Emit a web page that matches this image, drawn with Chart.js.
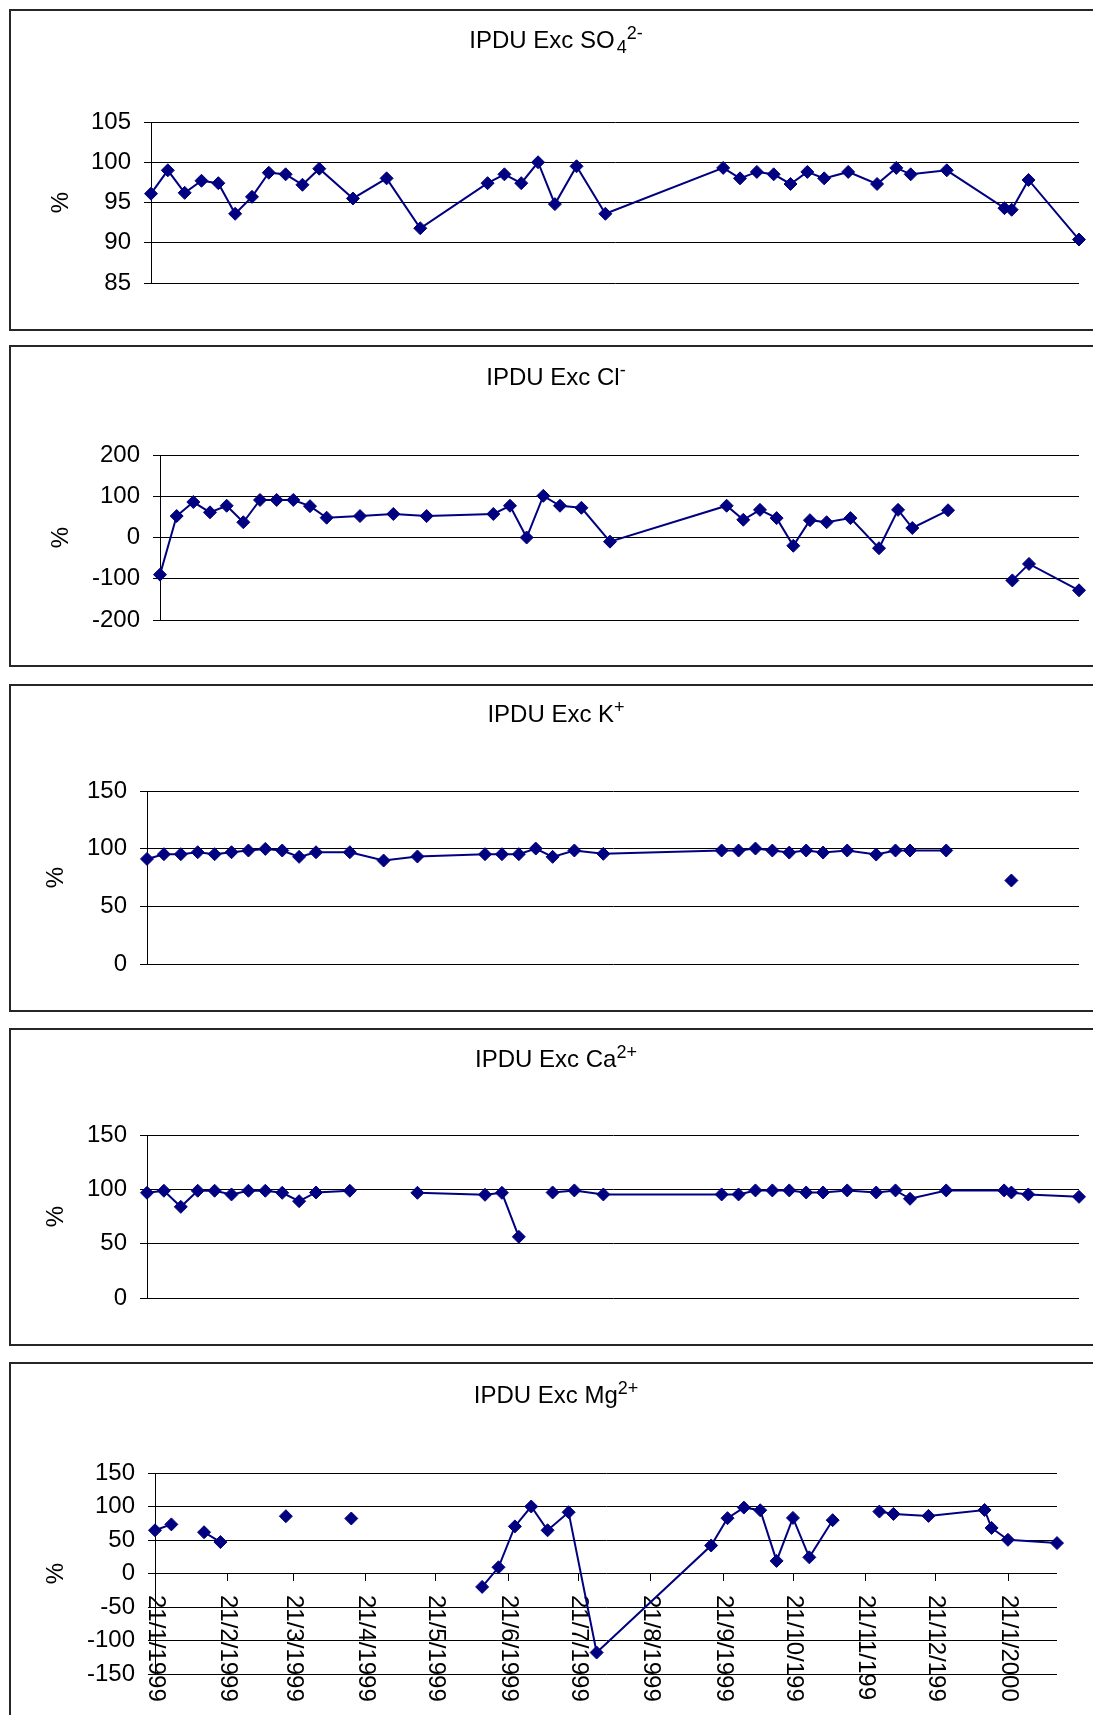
<!DOCTYPE html>
<html>
<head>
<meta charset="utf-8">
<title>IPDU Exc</title>
<script src="https://cdn.jsdelivr.net/npm/chart.js@4.4.1/dist/chart.umd.min.js"></script>
<style>
  html, body { margin: 0; padding: 0; background: #fff; }
  body { width: 1093px; height: 1715px; overflow: hidden; position: relative; }
  .panel { position: absolute; left: 9px; width: 1100px; border: 2px solid #262626; box-sizing: border-box; }
  canvas { position: absolute; left: 0; }
</style>
</head>
<body>
<script>
// Fechas de muestreo (d/m/aaaa)
const sampleDates = [
  '21/1/1999', '28/1/1999', '4/2/1999', '11/2/1999', '18/2/1999', '25/2/1999',
  '4/3/1999', '11/3/1999', '18/3/1999', '25/3/1999', '1/4/1999', '15/4/1999',
  '29/4/1999', '13/5/1999', '10/6/1999', '17/6/1999', '24/6/1999', '1/7/1999',
  '8/7/1999', '17/7/1999', '29/7/1999', '16/9/1999', '23/9/1999', '30/9/1999',
  '7/10/1999', '14/10/1999', '21/10/1999', '28/10/1999', '7/11/1999', '19/11/1999',
  '27/11/1999', '3/12/1999', '18/12/1999', '11/1/2000', '14/1/2000', '21/1/2000',
  '11/2/2000'
];

// Porcentajes por ion (null = sin dato)
const so4 = [96.1, 99.0, 96.2, 97.7, 97.4, 93.6, 95.7, 98.7, 98.5, 97.2, 99.2, 95.5,
  98.0, 91.8, 97.4, 98.5, 97.4, 100.0, 94.8, 99.5, 93.6, 99.3, 98.0, 98.8,
  98.5, 97.3, 98.8, 98.0, 98.8, 97.3, 99.3, 98.5, 99.0, 94.3, 94.1, 97.8, 90.4];
const cl = [-90, 52, 86, 61, 77, 37, 91, 91, 91, 76, 48, 52,
  57, 52, 57, 77, 0, 101, 77, 72, -10, 77, 43, 67,
  47, -20, 42, 37, 47, -26, 67, 23, 66, null, -104, -64, -128];
const k = [91.1, 95.2, 95.2, 96.9, 95.2, 96.9, 98.4, 99.8, 98.4, 92.9, 96.9, 96.9,
  89.7, 93.2, 95.2, 95.2, 95.2, 100.1, 92.9, 98.4, 95.5, 98.4, 98.4, 100.1,
  98.4, 96.6, 98.4, 96.6, 98.4, 94.9, 98.4, 98.4, 98.4, null, 72.4, null, null];
const ca = [96.8, 98.7, 83.9, 98.7, 98.7, 95.3, 98.7, 98.7, 96.8, 89.1, 97.1, 98.7,
  null, 96.8, 95.0, 96.8, 56.3, null, 97.1, 99.0, 95.3, 95.3, 95.3, 99.0,
  99.0, 99.0, 97.1, 97.1, 99.0, 97.1, 99.0, 91.3, 99.0, 99.0, 97.1, 95.3, 93.1];
const mg = [64.5, 73.3, null, 61.6, 46.9, null, null, null, 85.5, null, null, 82.1,
  null, null, -20, 9.3, 70.3, 100, 64.5, 91.4, -118, 41.8, 82.6, 98.4,
  94.4, 18.8, 83, 24.1, 79.6, null, 92.4, 88.9, 86, 94.8, 68, 50.3, 45.4];

// Eje de fechas (solo en el último gráfico)
const tickDates = ['21/1/1999', '21/2/1999', '21/3/1999', '21/4/1999', '21/5/1999', '21/6/1999',
  '21/7/1999', '21/8/1999', '21/9/1999', '21/10/1999', '21/11/1999', '21/12/1999', '21/1/2000'];
const tickLabels = ['21/1/1999', '21/2/1999', '21/3/1999', '21/4/1999', '21/5/1999', '21/6/1999',
  '21/7/1999', '21/8/1999', '21/9/1999', '21/10/199', '21/11/199', '21/12/199', '21/1/2000'];

// Rangos del eje Y
const yRanges = {
  so4: [85, 105, 5],
  cl: [-200, 200, 100],
  k: [0, 150, 50],
  ca: [0, 150, 50],
  mg: [-150, 150, 50]
};

const NAVY = '#000080';
const FONT = '"Liberation Sans", Arial, sans-serif';

function dayNumber(s) {
  const [d, m, y] = s.split('/').map(Number);
  return Date.UTC(y, m - 1, d) / 86400000;
}
const day0 = dayNumber(sampleDates[0]);
const xDays = sampleDates.map(s => dayNumber(s) - day0);

/* ================================
   TÍTULO CON SUB/SUPERÍNDICES
================================= */
const titlePlugin = {
  id: 'ionTitle',
  afterDraw(chart, args, opts) {
    if (!opts.parts) return;
    const ctx = chart.ctx;
    const fontFor = kind => (kind === 'n' ? 24 : 18) + 'px ' + FONT;
    const gap = kind => (kind === 'sub' ? 2 : 0);
    let total = 0;
    opts.parts.forEach(([txt, kind]) => {
      ctx.font = fontFor(kind);
      total += ctx.measureText(txt).width + gap(kind);
    });
    let x = opts.centerX - total / 2;
    ctx.save();
    ctx.fillStyle = '#000';
    ctx.textAlign = 'left';
    ctx.textBaseline = 'alphabetic';
    opts.parts.forEach(([txt, kind]) => {
      ctx.font = fontFor(kind);
      x += gap(kind);
      const dy = kind === 'sub' ? 5 : kind === 'sup' ? -9 : 0;
      ctx.fillText(txt, x, opts.baseline + dy);
      x += ctx.measureText(txt).width;
    });
    ctx.restore();
  }
};

/* ================================
   EJE DE FECHAS EN Y = 0
================================= */
const dateAxisPlugin = {
  id: 'dateAxis',
  beforeDatasetsDraw(chart, args, opts) {
    if (!opts.dates) return;
    const { ctx, scales: { x, y } } = chart;
    const y0 = Math.round(y.getPixelForValue(0));
    ctx.save();
    ctx.strokeStyle = '#000';
    ctx.fillStyle = '#000';
    ctx.lineWidth = 1;
    ctx.font = '24px ' + FONT;
    opts.dates.forEach((d, i) => {
      const px = Math.round(x.getPixelForValue(dayNumber(d) - day0)) + 0.5;
      ctx.beginPath();
      ctx.moveTo(px, y0);
      ctx.lineTo(px, y0 + 7);
      ctx.stroke();
      ctx.save();
      ctx.translate(px, y0 + 21);
      ctx.rotate(Math.PI / 2);
      ctx.textAlign = 'left';
      ctx.textBaseline = 'middle';
      ctx.fillText(opts.labels[i], 0, 0);
      ctx.restore();
    });
    ctx.restore();
  }
};

// Disposición de cada recuadro
const panels = [
  { top: 9, height: 322, box: 322, pad: { left: 40, right: 14, top: 113, bottom: 48 }, axisW: 111, base: 39,
    values: so4, range: yRanges.so4, parts: [['IPDU Exc SO', 'n'], ['4', 'sub'], ['2-', 'sup']] },
  { top: 345, height: 322, box: 322, pad: { left: 40, right: 14, top: 110, bottom: 47 }, axisW: 120, base: 40,
    values: cl, range: yRanges.cl, parts: [['IPDU Exc Cl', 'n'], ['-', 'sup']] },
  { top: 684, height: 328, box: 328, pad: { left: 35, right: 14, top: 107, bottom: 48 }, axisW: 112, base: 38,
    values: k, range: yRanges.k, parts: [['IPDU Exc K', 'n'], ['+', 'sup']] },
  { top: 1028, height: 318, box: 318, pad: { left: 35, right: 14, top: 107, bottom: 48 }, axisW: 112, base: 39,
    values: ca, range: yRanges.ca, parts: [['IPDU Exc Ca', 'n'], ['2+', 'sup']] },
  { top: 1362, height: 353, box: 400, pad: { left: 35, right: 36, top: 111, bottom: 41 }, axisW: 120, base: 41,
    values: mg, range: yRanges.mg, parts: [['IPDU Exc Mg', 'n'], ['2+', 'sup']], dateAxis: true }
];

Chart.defaults.font.family = FONT;
Chart.defaults.font.size = 24;
Chart.defaults.color = '#000';

panels.forEach(p => {
  const box = document.createElement('div');
  box.className = 'panel';
  box.style.top = p.top + 'px';
  box.style.height = p.box + 'px';
  document.body.appendChild(box);

  const canvas = document.createElement('canvas');
  canvas.width = 1093;
  canvas.height = p.height;
  canvas.style.top = p.top + 'px';
  canvas.style.width = '1093px';
  canvas.style.height = p.height + 'px';
  document.body.appendChild(canvas);

  const [yMin, yMax, yStep] = p.range;
  new Chart(canvas, {
    type: 'line',
    data: {
      datasets: [{
        data: xDays.map((d, i) => ({ x: d, y: p.values[i] })),
        borderColor: NAVY,
        borderWidth: 2,
        pointStyle: 'rectRot',
        pointRadius: 6.5,
        pointBackgroundColor: NAVY,
        pointBorderColor: NAVY,
        pointBorderWidth: 1,
        spanGaps: false,
        clip: false
      }]
    },
    options: {
      responsive: false,
      animation: false,
      devicePixelRatio: 1,
      layout: { padding: p.pad },
      plugins: {
        legend: { display: false },
        tooltip: { enabled: false },
        ionTitle: { parts: p.parts, centerX: 556, baseline: p.base },
        dateAxis: p.dateAxis ? { dates: tickDates, labels: tickLabels } : {}
      },
      scales: {
        x: { type: 'linear', display: false, min: 0, max: xDays[xDays.length - 1] },
        y: {
          min: yMin,
          max: yMax,
          ticks: { stepSize: yStep, padding: 13, color: '#000', font: { size: 24 } },
          grid: { color: '#000', lineWidth: 1, tickLength: 7, drawTicks: true },
          border: { display: true, color: '#000', width: 1 },
          title: { display: true, text: '%', color: '#000', font: { size: 24 }, padding: { top: 7, bottom: 0 } },
          afterFit(scale) { scale.width = p.axisW; }
        }
      }
    },
    plugins: [titlePlugin, dateAxisPlugin]
  });
});
</script>
</body>
</html>
